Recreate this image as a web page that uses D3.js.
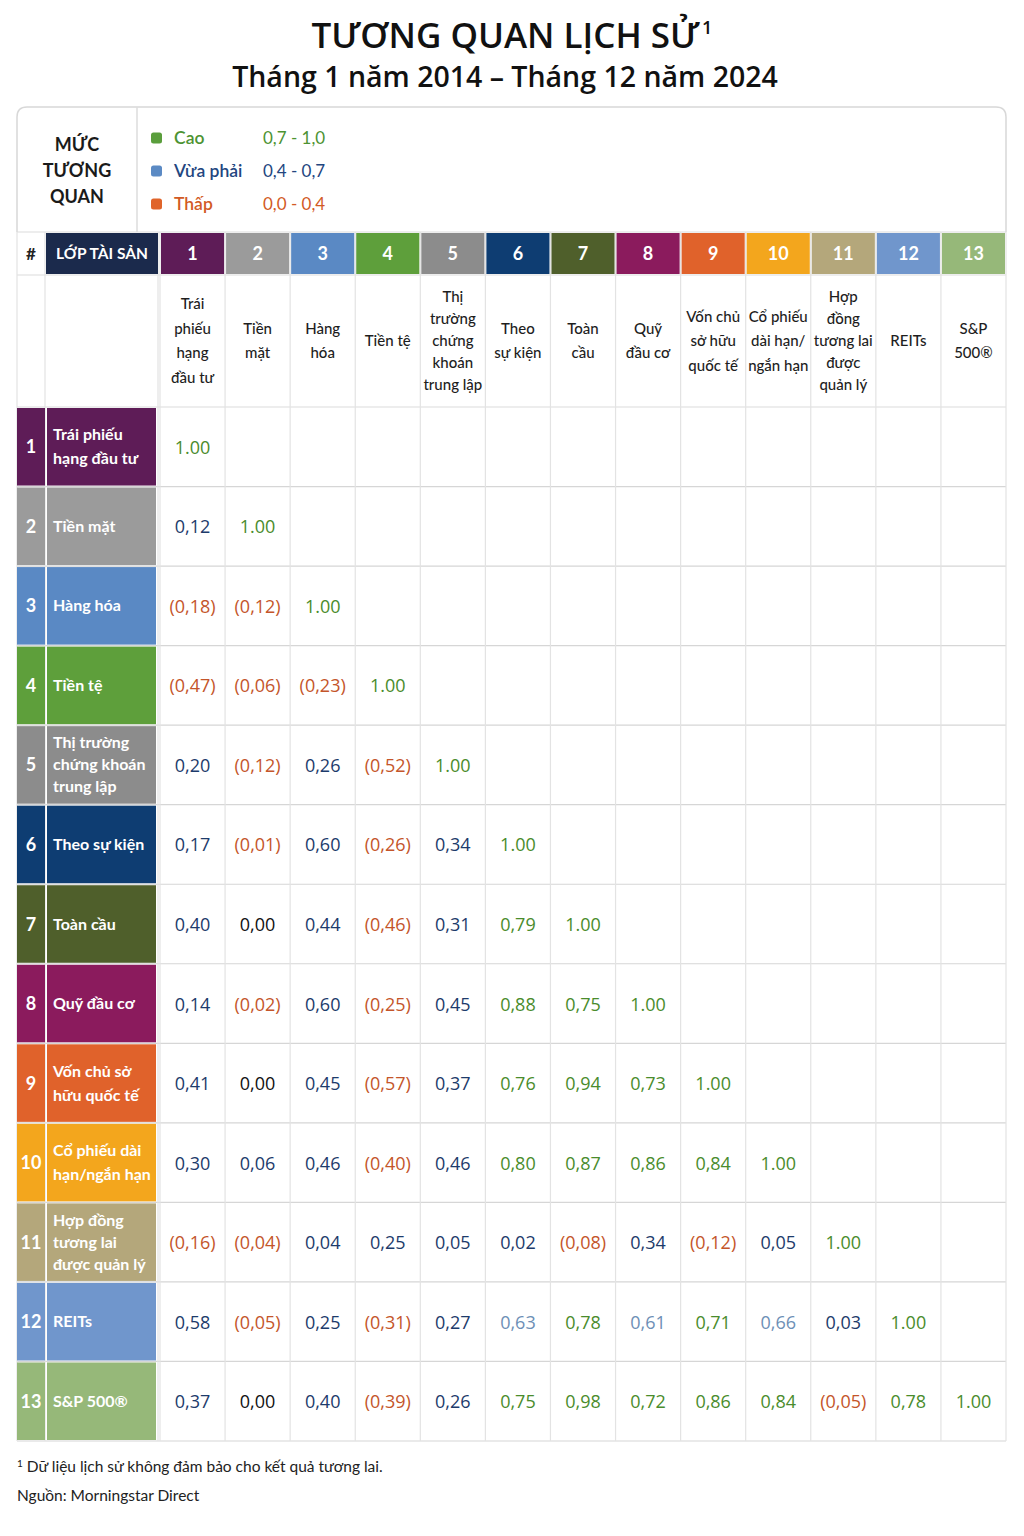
<!DOCTYPE html>
<html><head><meta charset="utf-8">
<script src="https://cdn.jsdelivr.net/npm/d3@7/dist/d3.min.js"></script>
<style>
html,body{margin:0;padding:0;background:#fff;}
svg{display:block;}
</style></head>
<body>
<svg id="chart" width="1024" height="1536"></svg>
<script>
// ---------- DATA ----------
const assetIds = [1,2,3,4,5,6,7,8,9,10,11,12,13];
const rowLabels = [
  ["Trái phiếu","hạng đầu tư"],
  ["Tiền mặt"],
  ["Hàng hóa"],
  ["Tiền tệ"],
  ["Thị trường","chứng khoán","trung lập"],
  ["Theo sự kiện"],
  ["Toàn cầu"],
  ["Quỹ đầu cơ"],
  ["Vốn chủ sở","hữu quốc tế"],
  ["Cổ phiếu dài","hạn/ngắn hạn"],
  ["Hợp đồng","tương lai","được quản lý"],
  ["REITs"],
  ["S&P 500®"]
];
const colLabels = [
  ["Trái","phiếu","hạng","đầu tư"],
  ["Tiền","mặt"],
  ["Hàng","hóa"],
  ["Tiền tệ"],
  ["Thị","trường","chứng","khoán","trung lập"],
  ["Theo","sự kiện"],
  ["Toàn","cầu"],
  ["Quỹ","đầu cơ"],
  ["Vốn chủ","sở hữu","quốc tế"],
  ["Cổ phiếu","dài hạn/","ngắn hạn"],
  ["Hợp","đồng","tương lai","được","quản lý"],
  ["REITs"],
  ["S&P","500®"]
];
const row1  = [1.00];
const row2  = [0.12, 1.00];
const row3  = [-0.18, -0.12, 1.00];
const row4  = [-0.47, -0.06, -0.23, 1.00];
const row5  = [0.20, -0.12, 0.26, -0.52, 1.00];
const row6  = [0.17, -0.01, 0.60, -0.26, 0.34, 1.00];
const row7  = [0.40, 0.00, 0.44, -0.46, 0.31, 0.79, 1.00];
const row8  = [0.14, -0.02, 0.60, -0.25, 0.45, 0.88, 0.75, 1.00];
const row9  = [0.41, 0.00, 0.45, -0.57, 0.37, 0.76, 0.94, 0.73, 1.00];
const row10 = [0.30, 0.06, 0.46, -0.40, 0.46, 0.80, 0.87, 0.86, 0.84, 1.00];
const row11 = [-0.16, -0.04, 0.04, 0.25, 0.05, 0.02, -0.08, 0.34, -0.12, 0.05, 1.00];
const row12 = [0.58, -0.05, 0.25, -0.31, 0.27, 0.63, 0.78, 0.61, 0.71, 0.66, 0.03, 1.00];
const row13 = [0.37, 0.00, 0.40, -0.39, 0.26, 0.75, 0.98, 0.72, 0.86, 0.84, -0.05, 0.78, 1.00];
const matrix = [row1,row2,row3,row4,row5,row6,row7,row8,row9,row10,row11,row12,row13];
const legendNames = ["Cao","Vừa phải","Thấp"];
const legendRanges = ["0,7 - 1,0","0,4 - 0,7","0,0 - 0,4"];
const titleText = "TƯƠNG QUAN LỊCH SỬ";
const subtitleText = "Tháng 1 năm 2014 – Tháng 12 năm 2024";
const footnoteText = "Dữ liệu lịch sử không đảm bảo cho kết quả tương lai.";
const sourceText = "Nguồn: Morningstar Direct";

// ---------- STYLE ----------
const assetColors = ["#5e1c57","#9b9b9b","#5a89c4","#5e9f3b","#8c8c8c","#0e3d72","#4f5f2b",
  "#8b1b5d","#e0622b","#f3a61d","#b4a77b","#7096cc","#96b879"];
const legendMarkerColors = ["#5a9e3c","#5b8ac4","#e0642a"];
const legendTextColors = ["#4d9332","#23467f","#d25a25"];
const C_GREEN = "#4a8c2c", C_NAVY = "#1d3b6b", C_ORANGE = "#c4552a", C_BLACK = "#111", C_LIGHT = "#6d8fb6";
const mutedCells = new Set(["11-5","11-7","11-9"]); // lighter blue cells (row-index - col-index)
const LABEL_FONT = "Lato, 'Noto Sans', sans-serif";
const VALUE_FONT = "'Open Sans', 'Noto Sans', sans-serif";
const GRID = "#e3e3e3", GRID_H = "#d6d6d6";

const svg = d3.select("#chart");
const L = 17, R = 1006;
const x = d3.scaleBand().domain(assetIds).range([160, R]);
const y = d3.scaleBand().domain(assetIds).range([407, 1441]);
const legendY = d3.scalePoint().domain(legendNames).range([138, 204]);

// title
const t = svg.append("text").attr("x", 512).attr("y", 48).attr("text-anchor","middle")
  .attr("font-family", VALUE_FONT).attr("font-weight", 600).attr("font-size", 35).attr("fill","#111");
t.append("tspan").text(titleText);
t.append("tspan").text("1").attr("font-size", 18).attr("dy", -14).attr("dx", 3);
svg.append("text").attr("x", 505).attr("y", 87).attr("text-anchor","middle")
  .attr("font-family", VALUE_FONT).attr("font-weight", 600).attr("font-size", 28.5).attr("fill","#111")
  .text(subtitleText);

// legend box with rounded top
const topY = 107, headY = 232, labY = 275, gridTop = 407, bottom = 1441, rad = 10;
svg.append("path")
  .attr("d", `M${L},${headY} L${L},${topY+rad} Q${L},${topY} ${L+rad},${topY} L${R-rad},${topY} Q${R},${topY} ${R},${topY+rad} L${R},${headY}`)
  .attr("fill","#fff").attr("stroke","#d8d8d8").attr("stroke-width",1.5);
svg.append("line").attr("x1",137).attr("x2",137).attr("y1",topY).attr("y2",headY).attr("stroke","#dcdcdc").attr("stroke-width",1.5);
const mt = svg.append("text").attr("text-anchor","middle").attr("font-family",LABEL_FONT)
  .attr("font-weight",700).attr("font-size",18).attr("fill","#1a1a1a");
["MỨC","TƯƠNG","QUAN"].forEach((s,i)=> mt.append("tspan").attr("x",77).attr("y",151+i*26).text(s));

const lg = svg.append("g").selectAll("g").data(legendNames).join("g")
  .attr("transform", d => `translate(0,${legendY(d)})`);
lg.append("rect").attr("x",151).attr("y",-5.5).attr("width",11).attr("height",11).attr("rx",2.5)
  .attr("fill",(d,i)=>legendMarkerColors[i]);
lg.append("text").attr("x",174).attr("y",6).attr("font-family",LABEL_FONT).attr("font-weight",600)
  .attr("font-size",17.5).attr("fill",(d,i)=>legendTextColors[i]).text(d=>d);
lg.append("text").attr("x",263).attr("y",6).attr("font-family",LABEL_FONT).attr("font-weight",400)
  .attr("font-size",17).attr("fill",(d,i)=>legendTextColors[i]).text((d,i)=>legendRanges[i]);

// grid lines
const grid = svg.append("g");
[headY, labY, gridTop].concat(assetIds.map(d => y(d) + y.bandwidth())).forEach(yy => {
  grid.append("line").attr("x1",L).attr("x2",R).attr("y1",yy).attr("y2",yy)
    .attr("stroke", yy>gridTop ? GRID_H : "#dcdcdc").attr("stroke-width",1.2);
});
[L, 45, 158].concat(assetIds.map(d => x(d))).concat([R]).forEach(xx => {
  grid.append("line").attr("x1",xx).attr("x2",xx).attr("y1",headY).attr("y2",bottom)
    .attr("stroke", GRID).attr("stroke-width",1.2);
});

// header row
svg.append("text").attr("x",31).attr("y",headY+28).attr("text-anchor","middle")
  .attr("font-family",LABEL_FONT).attr("font-weight",700).attr("font-size",17).attr("fill","#222").text("#");
svg.append("rect").attr("x",46).attr("y",headY+1).attr("width",112).attr("height",labY-headY-2).attr("fill","#1b2a4c");
svg.append("text").attr("x",102).attr("y",headY+27).attr("text-anchor","middle")
  .attr("font-family",LABEL_FONT).attr("font-weight",700).attr("font-size",15.5).attr("fill","#fff").text("LỚP TÀI SẢN");

const hdr = svg.append("g").selectAll("g").data(assetIds).join("g");
hdr.append("rect").attr("x",d=>x(d)+1).attr("y",headY+1).attr("width",x.bandwidth()-2)
  .attr("height",labY-headY-2).attr("fill",(d,i)=>assetColors[i]);
hdr.append("text").attr("x",d=>x(d)+x.bandwidth()/2).attr("y",headY+28).attr("text-anchor","middle")
  .attr("font-family",LABEL_FONT).attr("font-weight",700).attr("font-size",18).attr("fill","#fff").text(d=>d);

// column labels
const colMid = (labY + gridTop)/2;
hdr.each(function(d,i){
  const lines = colLabels[i];
  const lh = lines.length >= 5 ? 22 : 24.5;
  const txt = d3.select(this).append("text").attr("text-anchor","middle")
    .attr("font-family",LABEL_FONT).attr("font-weight",500).attr("font-size",15).attr("fill","#1e1e1e");
  lines.forEach((s,k)=>{
    txt.append("tspan").attr("x",x(d)+x.bandwidth()/2)
      .attr("y", colMid + (k-(lines.length-1)/2)*lh + 5).text(s);
  });
});

// row labels
const rows = svg.append("g").selectAll("g").data(assetIds).join("g");
rows.append("rect").attr("x",L).attr("y",d=>y(d)+1).attr("width",45-L).attr("height",y.bandwidth()-2)
  .attr("fill",(d,i)=>assetColors[i]);
rows.append("rect").attr("x",47).attr("y",d=>y(d)+1).attr("width",109).attr("height",y.bandwidth()-2)
  .attr("fill",(d,i)=>assetColors[i]);
rows.append("text").attr("x",31).attr("y",d=>y(d)+y.bandwidth()/2+6.5).attr("text-anchor","middle")
  .attr("font-family",LABEL_FONT).attr("font-weight",700).attr("font-size",18).attr("fill","#fff").text(d=>d);
rows.each(function(d,i){
  const lines = rowLabels[i];
  const lh = lines.length >= 3 ? 22 : 24;
  const txt = d3.select(this).append("text").attr("font-family",LABEL_FONT).attr("font-weight",700)
    .attr("font-size",16).attr("fill","#fff");
  lines.forEach((s,k)=>{
    txt.append("tspan").attr("x",53).attr("y", y(d)+y.bandwidth()/2 + (k-(lines.length-1)/2)*lh + 5.5).text(s);
  });
});

// values
const cells = [];
matrix.forEach((r,ri)=> r.forEach((v,ci)=> cells.push({r:assetIds[ri], c:assetIds[ci], ri, ci, v})));
const f2 = d3.format(".2f");
const fmt = v => v === 1 ? "1.00" : (v < 0 ? "(" + f2(-v).replace(".",",") + ")" : f2(v).replace(".",","));
const colorOf = d => {
  if (d.v >= 0.7) return C_GREEN;
  if (d.v < 0) return C_ORANGE;
  if (d.v === 0) return C_BLACK;
  if (mutedCells.has(d.ri + "-" + d.ci)) return C_LIGHT;
  return C_NAVY;
};
svg.append("g").selectAll("text").data(cells).join("text")
  .attr("x", d => x(d.c) + x.bandwidth()/2)
  .attr("y", d => y(d.r) + y.bandwidth()/2 + 7)
  .attr("text-anchor","middle").attr("font-family",VALUE_FONT).attr("font-size",18)
  .attr("fill", colorOf).text(d => fmt(d.v));

// footnotes
const fn = svg.append("text").attr("x",L).attr("y",1472).attr("font-family",LABEL_FONT)
  .attr("font-size",15.5).attr("fill","#222");
fn.append("tspan").text("1").attr("font-size",10).attr("dy",-5);
fn.append("tspan").text(" " + footnoteText).attr("dy",5);
svg.append("text").attr("x",L).attr("y",1501).attr("font-family",LABEL_FONT)
  .attr("font-size",15.5).attr("fill","#222").text(sourceText);
</script>
</body></html>
